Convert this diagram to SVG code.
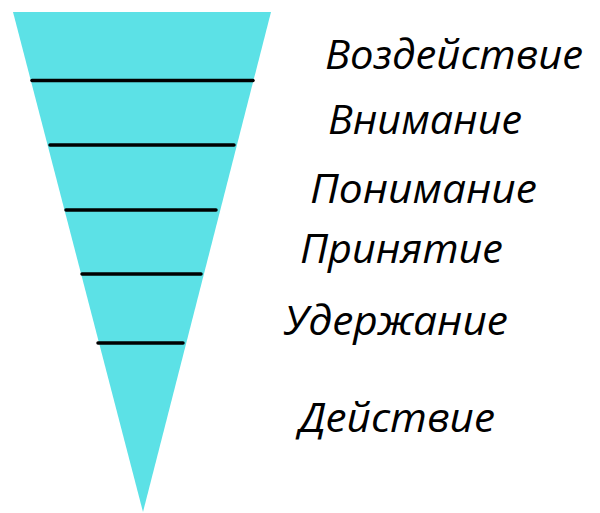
<svg xmlns="http://www.w3.org/2000/svg" width="600" height="513" viewBox="0 0 600 513">
<style>
.lbl{font-family:"Open Sans","Noto Sans",sans-serif;font-style:italic;font-size:40px;fill:#000}
.sep{stroke:#000;stroke-width:3.5;stroke-linecap:round}
</style>
<rect width="600" height="513" fill="#fff"/>
<g id="funnel">
<polygon points="13,12 271,12 143,512" fill="#5ce1e6"/>
</g>
<g id="connectors">
<line class="sep" x1="32" y1="80.5" x2="253" y2="80.5"/>
<line class="sep" x1="50" y1="145" x2="234" y2="145"/>
<line class="sep" x1="66" y1="210" x2="216" y2="210"/>
<line class="sep" x1="82" y1="274" x2="201" y2="274"/>
<line class="sep" x1="98" y1="343" x2="183" y2="343"/>
</g>
<g id="label1"><text class="lbl" x="325" y="69" textLength="258" lengthAdjust="spacingAndGlyphs">Воздействие</text></g>
<g id="label2"><text class="lbl" x="328" y="134" textLength="194" lengthAdjust="spacingAndGlyphs">Внимание</text></g>
<g id="label3"><text class="lbl" x="310" y="203" textLength="227" lengthAdjust="spacingAndGlyphs">Понимание</text></g>
<g id="label4"><text class="lbl" x="300" y="263" textLength="203" lengthAdjust="spacingAndGlyphs">Принятие</text></g>
<g id="label5"><text class="lbl" x="284" y="335" textLength="224" lengthAdjust="spacingAndGlyphs">Удержание</text></g>
<g id="label6"><text class="lbl" x="299" y="432" textLength="196" lengthAdjust="spacingAndGlyphs">Действие</text></g>
</svg>
